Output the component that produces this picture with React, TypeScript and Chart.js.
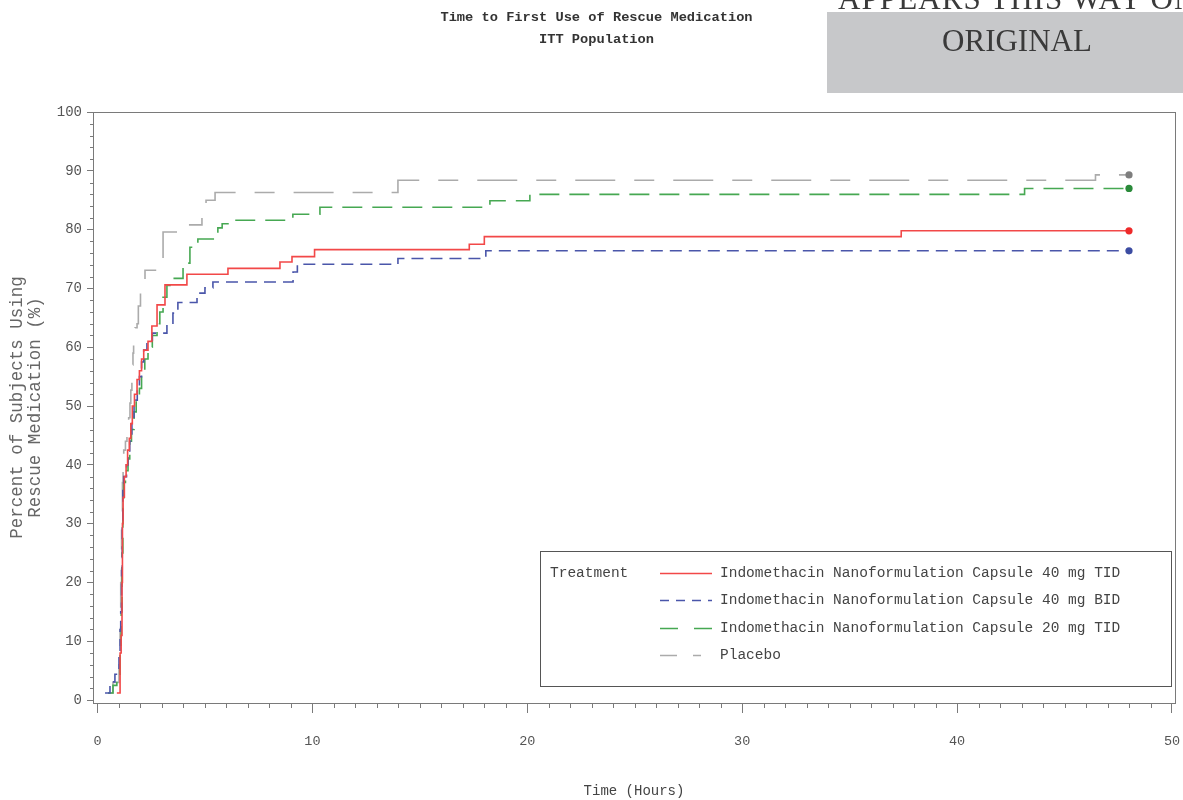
import React, { useEffect, useRef } from "react";
import { Chart, registerables } from "chart.js";

Chart.register(...registerables);

// ---------- text ----------
const titleLines = ["Time to First Use of Rescue Medication", "ITT Population"];
const xAxisTitle = "Time (Hours)";
const yAxisTitle = ["Percent of Subjects Using", "Rescue Medication (%)"];
const legendTitle = "Treatment";
const stampLines = ["APPEARS THIS WAY ON", "ORIGINAL"];
const seriesLabels = [
  "Indomethacin Nanoformulation Capsule 40 mg TID",
  "Indomethacin Nanoformulation Capsule 40 mg BID",
  "Indomethacin Nanoformulation Capsule 20 mg TID",
  "Placebo",
];

// ---------- ticks ----------
const xTickValues = [0, 10, 20, 30, 40, 50];
const yTickValues = [0, 10, 20, 30, 40, 50, 60, 70, 80, 90, 100];
const xMinorTickValues = Array.from({ length: 51 }, (_, i) => i).filter((v) => v % 10 !== 0);
const yMinorTickValues = Array.from({ length: 51 }, (_, i) => i * 2).filter((v) => v % 10 !== 0);

// ---------- data (time in hours, cumulative % using rescue medication) ----------
const tid40Times = [0.9, 1.05, 1.1, 1.14, 1.16, 1.19, 1.25, 1.33, 1.4, 1.48, 1.55, 1.62, 1.72, 1.84, 1.95, 2.05, 2.15, 2.35, 2.53, 2.77, 3.14, 4.16, 6.07, 8.49, 9.05, 10.1, 17.3, 18.0, 37.4, 48.0];
const tid40Pct = [1.2, 8.0, 11.0, 20.0, 30.0, 34.5, 38.0, 40.0, 42.5, 44.5, 47.0, 50.0, 52.0, 54.5, 56.0, 58.0, 59.5, 61.0, 63.6, 67.2, 70.6, 72.4, 73.4, 74.5, 75.4, 76.6, 77.5, 78.8, 79.8, 79.8];

const bid40Times = [0.35, 0.58, 0.81, 1.0, 1.05, 1.08, 1.12, 1.15, 1.18, 1.22, 1.35, 1.42, 1.5, 1.6, 1.7, 1.85, 1.95, 2.05, 2.15, 2.3, 2.55, 3.23, 3.51, 3.74, 4.63, 5.0, 5.37, 9.1, 9.3, 13.98, 18.07, 48.0];
const bid40Pct = [1.2, 3.1, 4.4, 8.0, 12.0, 15.0, 22.0, 30.0, 36.0, 38.0, 40.0, 42.0, 44.0, 47.0, 51.0, 53.0, 55.0, 57.5, 59.5, 61.0, 62.4, 63.8, 65.8, 67.6, 69.2, 70.1, 71.1, 72.8, 74.1, 75.1, 76.4, 76.4];

const tid20Times = [0.49, 0.72, 0.9, 1.05, 1.1, 1.14, 1.18, 1.22, 1.3, 1.42, 1.5, 1.58, 1.7, 1.8, 1.95, 2.05, 2.2, 2.35, 2.55, 2.77, 2.9, 3.05, 3.23, 3.37, 3.98, 4.3, 4.67, 5.6, 5.8, 6.07, 9.09, 10.35, 18.26, 20.12, 43.14, 48.0];
const tid20Pct = [1.2, 2.5, 4.0, 9.0, 15.0, 25.0, 33.0, 37.0, 39.0, 41.0, 44.0, 46.0, 49.0, 51.0, 53.0, 56.0, 58.0, 60.0, 62.0, 64.0, 66.0, 68.5, 70.5, 71.7, 74.3, 77.0, 78.4, 80.3, 81.0, 81.6, 82.6, 83.8, 84.9, 86.0, 87.0, 87.0];

const placeboTimes = [0.49, 0.72, 1.0, 1.05, 1.08, 1.12, 1.16, 1.19, 1.22, 1.3, 1.37, 1.45, 1.51, 1.55, 1.6, 1.62, 1.65, 1.68, 1.75, 1.84, 1.9, 2.0, 2.21, 3.05, 3.84, 4.86, 5.05, 5.47, 13.98, 46.44, 48.0];
const placeboPct = [1.2, 3.0, 6.0, 12.0, 20.0, 30.0, 37.0, 40.0, 42.5, 44.0, 46.0, 48.0, 50.5, 52.7, 54.4, 57.0, 59.0, 61.0, 63.3, 64.0, 67.0, 70.5, 73.1, 79.6, 80.8, 82.1, 85.0, 86.3, 88.4, 89.3, 89.3];

// ---------- styles ----------
const lineColors = ["#f24848", "#4a56aa", "#46a852", "#ababab"];
const markerColors = ["#ee2a2a", "#3c4ca2", "#2a8a3a", "#7e7e7e"];
const lineDashes = [[], [12, 7], [20, 10], [40, 19, 20, 19]];
const legendDashes = [[], [9, 7], [18, 16], [17, 16, 8, 12]];

const FONT = "'Liberation Mono', 'DejaVu Sans Mono', monospace";

function toPoints(times: number[], pct: number[]) {
  return times.map((t, i) => ({ x: t, y: pct[i] }));
}

const axisDecorPlugin = {
  id: "axisDecor",
  afterDraw(chart: any) {
    const { ctx, chartArea } = chart;
    const xs = chart.scales.x;
    const ys = chart.scales.y;
    ctx.save();
    ctx.strokeStyle = "#7a7a7a";
    ctx.lineWidth = 1;
    ctx.strokeRect(
      Math.round(chartArea.left) + 0.5,
      Math.round(chartArea.top) + 0.5,
      Math.round(chartArea.right - chartArea.left),
      Math.round(chartArea.bottom - chartArea.top)
    );
    ctx.beginPath();
    for (const v of xMinorTickValues) {
      const px = Math.round(xs.getPixelForValue(v)) + 0.5;
      ctx.moveTo(px, chartArea.bottom);
      ctx.lineTo(px, chartArea.bottom + 5);
    }
    for (const v of yMinorTickValues) {
      const py = Math.round(ys.getPixelForValue(v)) + 0.5;
      ctx.moveTo(chartArea.left, py);
      ctx.lineTo(chartArea.left - 3, py);
    }
    ctx.stroke();
    ctx.restore();
  },
};

const legendPlugin = {
  id: "kmLegend",
  afterDraw(chart: any) {
    const { ctx, chartArea } = chart;
    const right = chartArea.right - 4;
    const bottom = chartArea.bottom - 17;
    const w = 631;
    const h = 135;
    const left = right - w;
    const top = bottom - h;
    ctx.save();
    ctx.fillStyle = "#ffffff";
    ctx.fillRect(left, top, w, h);
    ctx.strokeStyle = "#555555";
    ctx.lineWidth = 1;
    ctx.strokeRect(Math.round(left) + 0.5, Math.round(top) + 0.5, w, h);
    ctx.font = `14.5px ${FONT}`;
    ctx.fillStyle = "#444444";
    ctx.textBaseline = "middle";
    ctx.textAlign = "left";
    ctx.fillText(legendTitle, left + 10, top + 22);
    chart.data.datasets.forEach((ds: any, i: number) => {
      const y = Math.round(top + 22 + i * 27.3) + 0.5;
      ctx.beginPath();
      ctx.setLineDash(legendDashes[i]);
      ctx.strokeStyle = ds.borderColor;
      ctx.lineWidth = 1.5;
      ctx.moveTo(left + 120, y);
      ctx.lineTo(left + 172, y);
      ctx.stroke();
      ctx.setLineDash([]);
      ctx.fillStyle = "#444444";
      ctx.fillText(ds.label, left + 180, y);
    });
    ctx.restore();
  },
};

export default function App() {
  const canvasRef = useRef<HTMLCanvasElement | null>(null);

  useEffect(() => {
    const canvas = canvasRef.current;
    if (!canvas) return;
    const seriesData = [
      toPoints(tid40Times, tid40Pct),
      toPoints(bid40Times, bid40Pct),
      toPoints(tid20Times, tid20Pct),
      toPoints(placeboTimes, placeboPct),
    ];
    const chart = new Chart(canvas, {
      type: "line",
      data: {
        datasets: seriesData.map((d, i) => ({
          label: seriesLabels[i],
          data: d,
          borderColor: lineColors[i],
          backgroundColor: lineColors[i],
          borderWidth: 1.6,
          borderDash: lineDashes[i],
          stepped: "before" as const,
          fill: false,
          pointRadius: (c: any) => (c.dataIndex === d.length - 1 ? 3.6 : 0),
          pointHoverRadius: 0,
          pointBorderWidth: 0,
          pointBackgroundColor: markerColors[i],
          pointBorderColor: markerColors[i],
        })),
      },
      options: {
        animation: false,
        responsive: false,
        devicePixelRatio: 1,
        events: [],
        layout: { padding: { left: 18, right: 8, top: 0, bottom: 0 } },
        plugins: {
          legend: { display: false },
          tooltip: { enabled: false },
          title: {
            display: true,
            text: titleLines,
            color: "#333333",
            font: { family: FONT, size: 13.7, weight: "bold", lineHeight: 22 / 13.7 },
            padding: { top: 7, bottom: 61 },
          },
        },
        scales: {
          x: {
            type: "linear",
            min: -0.21,
            max: 50.14,
            afterBuildTicks: (s: any) => {
              s.ticks = xTickValues.map((v) => ({ value: v }));
            },
            afterFit: (s: any) => {
              s.height = 97;
              s.paddingRight = 0;
              s.paddingLeft = 0;
            },
            ticks: {
              color: "#555555",
              font: { family: FONT, size: 13.5 },
              padding: 20,
              maxRotation: 0,
              callback: (v: any) => String(v),
            },
            grid: {
              display: true,
              drawOnChartArea: false,
              drawTicks: true,
              tickLength: 10,
              tickColor: "#7a7a7a",
            },
            border: { display: true, color: "#7a7a7a" },
            title: {
              display: true,
              text: xAxisTitle,
              color: "#444444",
              font: { family: FONT, size: 14 },
              padding: { top: 0, bottom: 0 },
            },
          },
          y: {
            type: "linear",
            min: -0.5,
            max: 100,
            afterBuildTicks: (s: any) => {
              s.ticks = yTickValues.map((v) => ({ value: v }));
            },
            afterFit: (s: any) => {
              s.width = 75;
            },
            ticks: {
              color: "#555555",
              font: { family: FONT, size: 14 },
              padding: 5,
              callback: (v: any) => String(v),
            },
            grid: {
              display: true,
              drawOnChartArea: false,
              drawTicks: true,
              tickLength: 6,
              tickColor: "#7a7a7a",
            },
            border: { display: true, color: "#7a7a7a" },
            title: {
              display: true,
              text: yAxisTitle,
              color: "#666666",
              font: { family: FONT, size: 17.5, lineHeight: 1.05 },
              padding: { top: -10, bottom: 0 },
            },
          },
        },
      },
      plugins: [axisDecorPlugin, legendPlugin],
    });
    return () => chart.destroy();
  }, []);

  return (
    <div style={{ position: "fixed", left: 0, top: 0, width: 1183, height: 800, background: "#ffffff" }}>
      <canvas ref={canvasRef} width={1183} height={800} style={{ width: 1183, height: 800, display: "block" }} />
      <div
        style={{
          position: "absolute",
          left: 827,
          top: 0,
          width: 356,
          height: 93,
          overflow: "hidden",
          fontFamily: "'Liberation Serif', 'Times New Roman', serif",
          fontSize: 31,
          lineHeight: "31px",
          color: "#3a3a3a",
        }}
      >
        <div style={{ position: "absolute", left: 0, top: 12, width: 356, height: 81, background: "#c7c8ca" }} />
        <div style={{ position: "absolute", left: 11, top: -17, whiteSpace: "nowrap", letterSpacing: 1.1 }}>
          {stampLines[0]}
        </div>
        <div style={{ position: "absolute", left: 0, width: 380, top: 25, textAlign: "center", whiteSpace: "nowrap" }}>
          {stampLines[1]}
        </div>
      </div>
    </div>
  );
}
